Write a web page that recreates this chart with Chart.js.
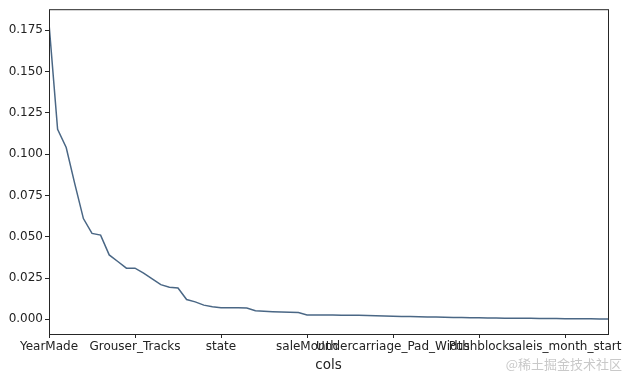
<!DOCTYPE html>
<html>
<head>
<meta charset="utf-8">
<script src="https://cdn.jsdelivr.net/npm/chart.js@4"></script>
<style>
  html, body { margin: 0; padding: 0; background: #fff; }
  #wrap { width: 626px; height: 378px; position: relative; }
</style>
</head>
<body>
<div id="wrap"><canvas id="chartCanvas"></canvas></div>
<script>
// feature importance, sorted (index 0..65)
const importance = [
    0.179, 0.115, 0.104, 0.082, 0.061, 0.052, 0.051, 0.039, 0.035, 0.031,
    0.031, 0.028, 0.0245, 0.021, 0.0195, 0.019, 0.012, 0.0106, 0.0086, 0.0076,
    0.0071, 0.0070, 0.0070, 0.0069, 0.0052, 0.0049, 0.0046, 0.0044, 0.0043, 0.0041,
    0.0027, 0.0026, 0.0026, 0.0026, 0.0025, 0.0025, 0.0025, 0.0024, 0.0022, 0.0020,
    0.0019, 0.0018, 0.0017, 0.0016, 0.0015, 0.0014, 0.0013, 0.0012, 0.0011, 0.0010,
    0.0009, 0.0008, 0.0008, 0.0007, 0.0007, 0.0006, 0.0006, 0.0005, 0.0005, 0.0005,
    0.0004, 0.0004, 0.0003, 0.0003, 0.0002, 0.0002
];

// x tick labels (every 10th column)
const xTickIndex = [0, 10, 20, 30, 40, 50, 60];
const xTickNames = ["YearMade", "Grouser_Tracks", "state", "saleMonth",
    "Undercarriage_Pad_Width", "Pushblock", "saleis_month_start"];

const yTicks = [0, 0.025, 0.05, 0.075, 0.1, 0.125, 0.15, 0.175];

const font = { family: "'DejaVu Sans', sans-serif", size: 12 };

// matplotlib-style frame + watermark
const framePlugin = {
    id: "frame",
    afterDraw(chart) {
        const { ctx, chartArea: a } = chart;
        ctx.save();
        ctx.strokeStyle = "#262626";
        ctx.lineWidth = 1;
        ctx.strokeRect(a.left + 0.5, a.top + 0.5, a.right - a.left, a.bottom - a.top);
        ctx.fillStyle = "#c9c9c9";
        ctx.font = "13px 'Noto Sans CJK SC', sans-serif";
        ctx.textAlign = "right";
        ctx.textBaseline = "middle";
        ctx.fillText("@稀土掘金技术社区", 622, 364);
        ctx.restore();
    }
};

const ctx = document.getElementById("chartCanvas").getContext("2d");
new Chart(ctx, {
    type: "line",
    data: {
        datasets: [{
            data: importance.map((v, i) => ({ x: i, y: v })),
            borderColor: "#4a6785",
            borderWidth: 1.5,
            pointRadius: 0,
            tension: 0,
            fill: false
        }]
    },
    options: {
        responsive: true,
        maintainAspectRatio: false,
        animation: false,
        layout: { padding: { left: 0, top: 8, right: 18, bottom: 0 } },
        plugins: {
            legend: { display: false },
            tooltip: { enabled: false }
        },
        scales: {
            x: {
                type: "linear",
                min: 0,
                max: 65,
                afterFit: s => { s.height = 44; },
                afterBuildTicks: s => { s.ticks = xTickIndex.map(v => ({ value: v })); },
                border: { display: false },
                grid: { drawOnChartArea: false, drawTicks: true, tickLength: 4, color: "#262626" },
                ticks: {
                    autoSkip: false,
                    maxRotation: 0,
                    minRotation: 0,
                    padding: 2,
                    color: "#222",
                    font: font,
                    callback: v => xTickNames[xTickIndex.indexOf(v)]
                },
                title: {
                    display: true,
                    text: "cols",
                    color: "#222",
                    font: { family: "'DejaVu Sans', sans-serif", size: 13.5 },
                    padding: { top: 0, bottom: 4 }
                }
            },
            y: {
                min: -0.00886,
                max: 0.1877,
                afterFit: s => { s.width = 49; },
                afterBuildTicks: s => { s.ticks = yTicks.map(v => ({ value: v })); },
                border: { display: false },
                grid: { drawOnChartArea: false, drawTicks: true, tickLength: 4, color: "#262626" },
                ticks: {
                    padding: 2,
                    color: "#222",
                    font: font,
                    callback: v => v.toFixed(3)
                }
            }
        }
    },
    plugins: [framePlugin]
});
</script>
</body>
</html>
